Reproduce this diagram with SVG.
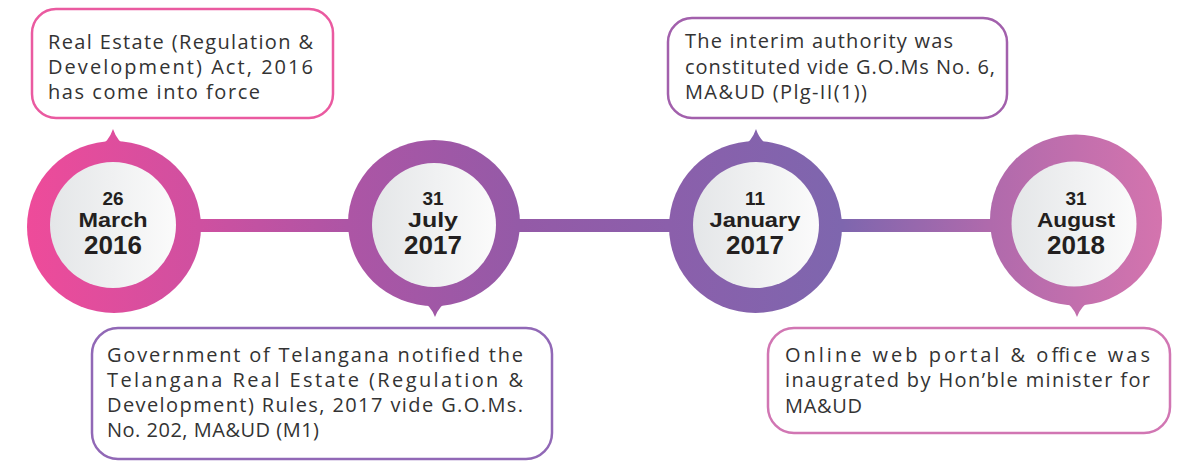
<svg xmlns="http://www.w3.org/2000/svg" width="1177" height="462" viewBox="0 0 1177 462">
  <defs>
    <linearGradient id="g" gradientUnits="userSpaceOnUse" x1="27" y1="0" x2="1162" y2="0">
      <stop offset="0" stop-color="#ee4b9a"/>
      <stop offset="0.152" stop-color="#cf50a0"/>
      <stop offset="0.282" stop-color="#ad55a5"/>
      <stop offset="0.434" stop-color="#945aa7"/>
      <stop offset="0.566" stop-color="#8b5fab"/>
      <stop offset="0.718" stop-color="#7e66ae"/>
      <stop offset="0.849" stop-color="#b06aac"/>
      <stop offset="1" stop-color="#d474ae"/>
    </linearGradient>
    <linearGradient id="inner" x1="0" y1="0" x2="1" y2="0">
      <stop offset="0" stop-color="#e4e6e8"/>
      <stop offset="1" stop-color="#fbfbfb"/>
    </linearGradient>
  </defs>
  <style>
    .ring { fill: url(#g); }
    .core { fill: url(#inner); }
    .box { fill: #ffffff; stroke-width: 2.5; }
    .t { font-family: "Open Sans", "Liberation Sans", sans-serif; font-size: 20px; fill: #333333; }
    .d { font-family: "Liberation Sans", Arial, sans-serif; font-weight: bold; fill: #231f20; text-anchor: middle; }
    .dn { font-size: 19px; }
    .dm { font-size: 21px; }
    .dy { font-size: 26px; }
  </style>
  <rect width="1177" height="462" fill="#ffffff"/>

  <g id="connectors">
    <rect x="195" y="219" width="160" height="13" fill="url(#g)"/>
    <rect x="515" y="219" width="160" height="13" fill="url(#g)"/>
    <rect x="835" y="219" width="160" height="13" fill="url(#g)"/>
  </g>

  <g id="node-2016">
    <path class="ring" d="M 99,147 Q 109,141 113,129 Q 117,141 127,147 Z"/>
    <ellipse class="ring" cx="114" cy="227" rx="87" ry="86"/>
    <circle class="core" cx="113" cy="225" r="63"/>
    <text class="d dn" x="113" y="205">26</text>
    <text class="d dm" x="113" y="227" textLength="69" lengthAdjust="spacingAndGlyphs">March</text>
    <text class="d dy" x="113" y="254">2016</text>
  </g>

  <g id="node-2017-july">
    <path class="ring" d="M 421,300 Q 431,306 435,317 Q 439,306 449,300 Z"/>
    <ellipse class="ring" cx="434" cy="223" rx="86" ry="83"/>
    <circle class="core" cx="434" cy="225" r="62"/>
    <text class="d dn" x="433" y="205">31</text>
    <text class="d dm" x="433" y="227" textLength="50" lengthAdjust="spacingAndGlyphs">July</text>
    <text class="d dy" x="433" y="254">2017</text>
  </g>

  <g id="node-2017-jan">
    <path class="ring" d="M 742,147 Q 752,141 756,129 Q 760,141 770,147 Z"/>
    <ellipse class="ring" cx="755.5" cy="227" rx="86.5" ry="86"/>
    <circle class="core" cx="756" cy="225" r="63"/>
    <text class="d dn" x="755" y="205">11</text>
    <text class="d dm" x="755" y="227" textLength="91" lengthAdjust="spacingAndGlyphs">January</text>
    <text class="d dy" x="755" y="254">2017</text>
  </g>

  <g id="node-2018">
    <path class="ring" d="M 1063,300 Q 1073,306 1077,317 Q 1081,306 1091,300 Z"/>
    <ellipse class="ring" cx="1076" cy="220" rx="86" ry="85.5"/>
    <circle class="core" cx="1074" cy="224" r="62.5"/>
    <text class="d dn" x="1076" y="205">31</text>
    <text class="d dm" x="1076" y="227" textLength="78" lengthAdjust="spacingAndGlyphs">August</text>
    <text class="d dy" x="1076" y="254">2018</text>
  </g>

  <g id="box-act">
    <rect class="box" x="32" y="9" width="301" height="109" rx="24" stroke="#ea5aa0"/>
    <text class="t" x="48" y="49" textLength="265" lengthAdjust="spacing">Real Estate (Regulation &amp;</text>
    <text class="t" x="48" y="74" textLength="265" lengthAdjust="spacing">Development)  Act,  2016</text>
    <text class="t" x="48" y="99" textLength="212" lengthAdjust="spacing">has come into force</text>
  </g>

  <g id="box-rules">
    <rect class="box" x="92" y="328" width="460" height="131" rx="26" stroke="#9168b6"/>
    <text class="t" x="107" y="362" textLength="416" lengthAdjust="spacing">Government of Telangana notified the</text>
    <text class="t" x="107" y="387" textLength="416" lengthAdjust="spacing">Telangana  Real  Estate  (Regulation  &amp;</text>
    <text class="t" x="107" y="412" textLength="416" lengthAdjust="spacing">Development) Rules, 2017 vide G.O.Ms.</text>
    <text class="t" x="107" y="437" textLength="212" lengthAdjust="spacing">No. 202, MA&amp;UD (M1)</text>
  </g>

  <g id="box-interim">
    <rect class="box" x="668" y="18" width="339" height="100" rx="24" stroke="#a260ac"/>
    <text class="t" x="685" y="48" textLength="268" lengthAdjust="spacing">The interim authority was</text>
    <text class="t" x="685" y="74" textLength="310" lengthAdjust="spacing">constituted vide G.O.Ms No. 6,</text>
    <text class="t" x="685" y="99" textLength="182" lengthAdjust="spacing">MA&amp;UD (Plg-II(1))</text>
  </g>

  <g id="box-portal">
    <rect class="box" x="768" y="328" width="402" height="105" rx="26" stroke="#d176b3"/>
    <text class="t" x="785" y="362" textLength="365" lengthAdjust="spacing">Online   web   portal   &amp;   office   was</text>
    <text class="t" x="785" y="387" textLength="365" lengthAdjust="spacing">inaugrated by Hon’ble minister for</text>
    <text class="t" x="785" y="413" textLength="77" lengthAdjust="spacing">MA&amp;UD</text>
  </g>
</svg>
